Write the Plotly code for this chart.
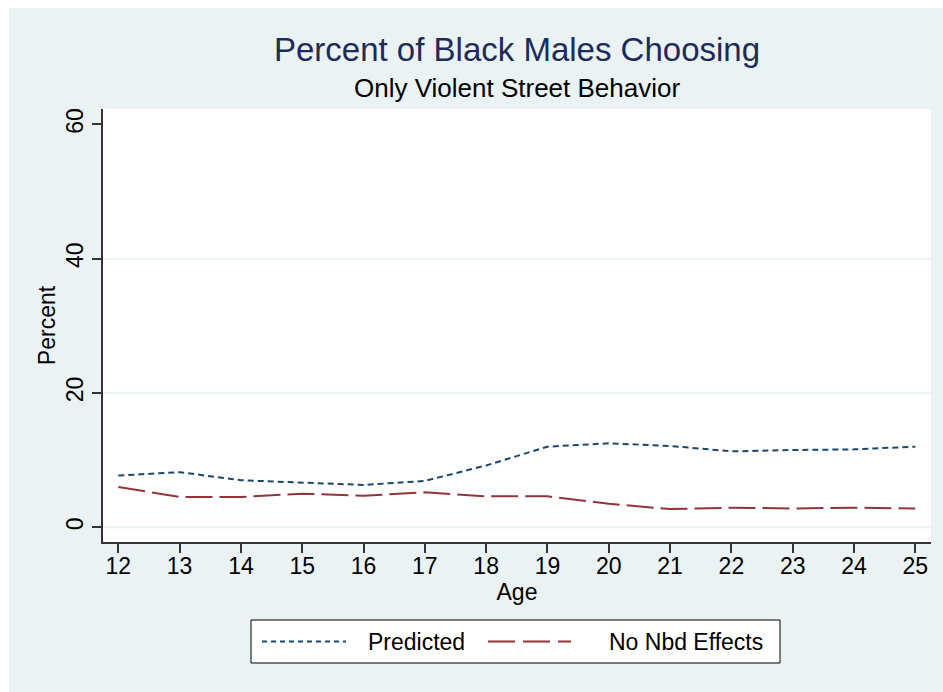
import plotly.graph_objects as go

# Age of respondent (x) and percent choosing only violent street behavior
ages = [12, 13, 14, 15, 16, 17, 18, 19, 20, 21, 22, 23, 24, 25]
predicted = [7.7, 8.2, 7.0, 6.6, 6.3, 6.9, 9.2, 12.0, 12.5, 12.1, 11.3, 11.5, 11.6, 12.0]
no_nbd_effects = [6.0, 4.5, 4.5, 5.0, 4.7, 5.2, 4.6, 4.6, 3.5, 2.7, 2.9, 2.8, 2.9, 2.8]

series_names = ["Predicted", "No Nbd Effects"]
y_ticks = [0, 20, 40, 60]
grid_values = [0, 20, 40]

title_text = "Percent of Black Males Choosing"
subtitle_text = "Only Violent Street Behavior"

W, H = 943, 692
ML, MR, MT, MB = 103, 12, 109, 150
PW, PH = W - ML - MR, H - MT - MB

BG = "#EAF2F3"
BLUE = "#1A476F"
RED = "#90353B"
FONT = "Liberation Sans, Arial, sans-serif"


def px_x(px):
    return (px - ML) / PW


def px_y(py):
    return (H - MB - py) / PH


fig = go.Figure()
fig.add_trace(go.Scatter(x=ages, y=predicted, mode="lines", name=series_names[0],
                         line=dict(color=BLUE, width=2, dash="6px,4px"), showlegend=False))
fig.add_trace(go.Scatter(x=ages, y=no_nbd_effects, mode="lines", name=series_names[1],
                         line=dict(color=RED, width=2, dash="27px,7px"), showlegend=False))

shapes = []
# light horizontal grid lines
for g in grid_values:
    shapes.append(dict(type="line", xref="paper", yref="y", x0=0, x1=1, y0=g, y1=g,
                       line=dict(color=BG, width=2), layer="below"))
# white strips along top and left edge of the figure
shapes.append(dict(type="rect", xref="paper", yref="paper", x0=px_x(0), x1=px_x(9),
                   y0=px_y(H), y1=px_y(0), fillcolor="white", line=dict(width=0), layer="below"))
shapes.append(dict(type="rect", xref="paper", yref="paper", x0=px_x(0), x1=px_x(W),
                   y0=px_y(8), y1=px_y(0), fillcolor="white", line=dict(width=0), layer="below"))

# legend box
shapes.append(dict(type="rect", xref="paper", yref="paper", x0=px_x(251), x1=px_x(780),
                   y0=px_y(663), y1=px_y(620), fillcolor="white",
                   line=dict(color="black", width=1)))
shapes.append(dict(type="line", xref="paper", yref="paper", x0=px_x(262), x1=px_x(346),
                   y0=px_y(641.5), y1=px_y(641.5), line=dict(color=BLUE, width=2, dash="5px,4px")))
shapes.append(dict(type="line", xref="paper", yref="paper", x0=px_x(488), x1=px_x(571),
                   y0=px_y(641.5), y1=px_y(641.5), line=dict(color=RED, width=2, dash="27px,8px")))

annotations = [
    dict(text=series_names[0], xref="paper", yref="paper", x=px_x(366), y=px_y(641.5),
         xanchor="left", yanchor="middle", showarrow=False, font=dict(size=23, color="black")),
    dict(text=series_names[1], xref="paper", yref="paper", x=px_x(607), y=px_y(641.5),
         xanchor="left", yanchor="middle", showarrow=False, font=dict(size=23, color="black")),
    dict(text=subtitle_text, xref="paper", yref="paper", x=0.5, y=px_y(88),
         xanchor="center", yanchor="middle", showarrow=False, font=dict(size=26, color="black")),
]

fig.update_layout(
    width=W, height=H,
    margin=dict(l=ML, r=MR, t=MT, b=MB, pad=0),
    paper_bgcolor=BG, plot_bgcolor="white",
    font=dict(family=FONT, color="black", size=23),
    title=dict(text=title_text, x=0.5, xref="paper", xanchor="center",
               y=1 - 49 / H, yanchor="middle", font=dict(size=33, color="#1C2B5A")),
    xaxis=dict(range=[11.75, 25.256], tickvals=ages, ticks="outside", ticklen=9, tickwidth=2,
               tickcolor="#333333", showline=True, linecolor="#333333", linewidth=2,
               showgrid=False, zeroline=False, tickfont=dict(size=23), ticklabelstandoff=-7,
               title=dict(text="Age", font=dict(size=23), standoff=0)),
    yaxis=dict(range=[-2.2, 62.3], tickvals=y_ticks, ticks="outside", ticklen=9, tickwidth=2,
               tickcolor="#333333", showline=True, linecolor="#333333", linewidth=2,
               showgrid=False, zeroline=False, tickangle=-90, tickfont=dict(size=23),
               title=dict(text="Percent", font=dict(size=23), standoff=0)),
    shapes=shapes,
    annotations=annotations,
    showlegend=False,
)

fig.write_html("out.html")
